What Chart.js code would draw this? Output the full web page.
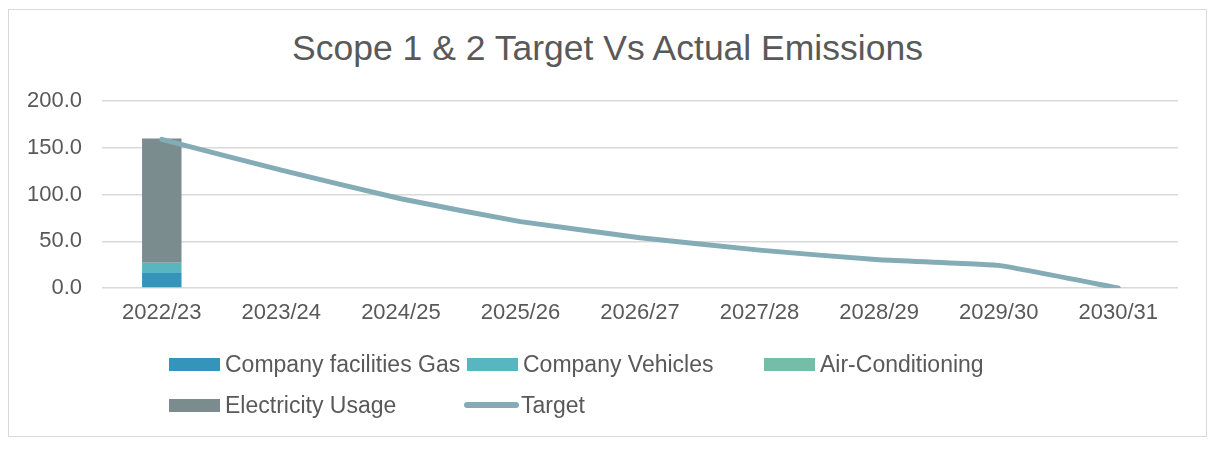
<!DOCTYPE html>
<html>
<head>
<meta charset="utf-8">
<script src="https://cdn.jsdelivr.net/npm/chart.js@4.4.1/dist/chart.umd.min.js"></script>
<style>
  html, body { margin: 0; padding: 0; background: #ffffff; }
  body { width: 1219px; height: 453px; position: relative; overflow: hidden; font-family: "Liberation Sans", Arial, sans-serif; color: #595959; }
  #frame { position: absolute; left: 8px; top: 9px; width: 1197px; height: 426px; border: 1.5px solid #d9d9d9; }
  #title { position: absolute; left: 0; width: 1215px; top: 31px; text-align: center; font-size: 35.5px; line-height: 35px; color: #595959; }
  #chartWrap { position: absolute; left: 0; top: 0; width: 1219px; height: 453px; }
  .lg { position: absolute; display: flex; align-items: center; font-size: 23px; line-height: 23px; color: #595959; white-space: nowrap; }
  .sw { width: 51px; height: 13px; margin-right: 5px; }
  .swl { width: 55px; height: 6px; border-radius: 3px; margin-right: 2px; }
</style>
</head>
<body>
<div id="frame"></div>
<div id="title">Scope 1 &amp; 2 Target Vs Actual Emissions</div>
<div id="chartWrap"><canvas id="c" width="1219" height="453"></canvas></div>
<div id="legend"></div>
<script>
const categories = ["2022/23","2023/24","2024/25","2025/26","2026/27","2027/28","2028/29","2029/30","2030/31"];
const gasValues = [16.0, null, null, null, null, null, null, null, null];
const vehicleValues = [10.8, null, null, null, null, null, null, null, null];
const airConValues = [0.3, null, null, null, null, null, null, null, null];
const electricityValues = [132.9, null, null, null, null, null, null, null, null];
const targetValues = [159.0, 126.0, 95.4, 71.0, 53.8, 40.5, 30.1, 24.2, 0.0];
const seriesNames = ["Company facilities Gas","Company Vehicles","Air-Conditioning","Electricity Usage","Target"];
const seriesColors = ["#3494BA","#58B6C0","#75BDA7","#7A8C8E","#84ACB6"];
const yTicks = [0, 50, 100, 150, 200];

const ctx = document.getElementById('c').getContext('2d');
new Chart(ctx, {
  data: {
    labels: categories,
    datasets: [
      { type: 'line', label: seriesNames[4], data: targetValues, borderColor: seriesColors[4], backgroundColor: seriesColors[4],
        borderWidth: 5, pointRadius: 0, tension: 0.1, borderCapStyle: 'round', borderJoinStyle: 'round', order: 0 },
      { type: 'bar', label: seriesNames[0], data: gasValues, backgroundColor: seriesColors[0], stack: 's', order: 1 },
      { type: 'bar', label: seriesNames[1], data: vehicleValues, backgroundColor: seriesColors[1], stack: 's', order: 1 },
      { type: 'bar', label: seriesNames[2], data: airConValues, backgroundColor: seriesColors[2], stack: 's', order: 1 },
      { type: 'bar', label: seriesNames[3], data: electricityValues, backgroundColor: seriesColors[3], stack: 's', order: 1 }
    ]
  },
  options: {
    responsive: false,
    animation: false,
    devicePixelRatio: 1,
    layout: { padding: { left: 0, right: 41, top: 101, bottom: 0 } },
    datasets: { bar: { barPercentage: 0.33, categoryPercentage: 1.0 } },
    plugins: { legend: { display: false }, title: { display: false }, tooltip: { enabled: false } },
    scales: {
      x: {
        stacked: true,
        grid: { display: false, drawTicks: false },
        border: { display: false },
        ticks: { color: '#595959', font: { family: 'Liberation Sans', size: 22 }, padding: 12, maxRotation: 0, autoSkip: false },
        afterFit: (s) => { s.height = 453 - 288; }
      },
      y: {
        stacked: true,
        min: 0, max: 200,
        afterBuildTicks: (s) => { s.ticks = yTicks.map(v => ({ value: v })); },
        grid: { color: '#d9d9d9', lineWidth: 1.5, drawTicks: false },
        border: { display: false },
        ticks: { color: '#595959', font: { family: 'Liberation Sans', size: 22 }, padding: 20,
                 callback: (v) => Number(v).toFixed(1) },
        afterFit: (s) => { s.width = 102; }
      }
    }
  }
});

// HTML legend
const legendPos = [
  { i: 0, left: 169, cy: 364.5 },
  { i: 1, left: 467, cy: 364.5 },
  { i: 2, left: 764, cy: 364.5 },
  { i: 3, left: 169, cy: 405 },
  { i: 4, left: 464, cy: 405 }
];
const lg = document.getElementById('legend');
legendPos.forEach(p => {
  const d = document.createElement('div');
  d.className = 'lg';
  d.style.left = p.left + 'px';
  d.style.top = (p.cy - 11.5) + 'px';
  const sw = document.createElement('span');
  sw.className = p.i === 4 ? 'swl' : 'sw';
  sw.style.background = seriesColors[p.i];
  const t = document.createElement('span');
  t.textContent = seriesNames[p.i];
  d.appendChild(sw); d.appendChild(t);
  lg.appendChild(d);
});
</script>
</body>
</html>
